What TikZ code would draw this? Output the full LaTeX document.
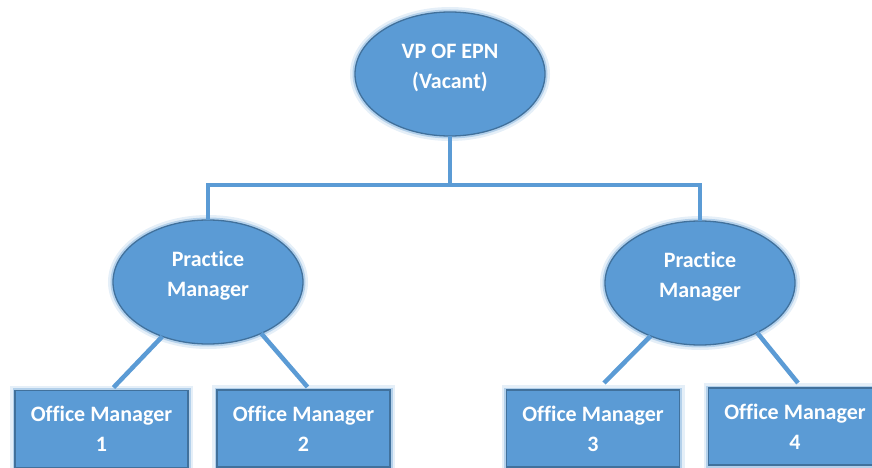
\documentclass[tikz,border=0pt]{standalone}
\usepackage{fontspec}
\setmainfont{Carlito}[Ligatures={NoCommon}]
\usetikzlibrary{shapes.geometric,positioning,calc}
\definecolor{boxblue}{HTML}{5B9BD5}
\definecolor{edgeblue}{HTML}{41719C}
\definecolor{glowblue}{HTML}{BDD7EE}
% extra depth so that the text sits a bit above the ellipse centre
\newcommand{\lift}{\rule[-16pt]{0pt}{0pt}}

\begin{document}
\begin{tikzpicture}[
    x=1pt, y=-1pt,
    glow/.style={preaction={draw=glowblue, line width=10pt, opacity=0.4},
                 preaction={draw=glowblue!70!boxblue, line width=5pt, opacity=0.7}},
    role/.style={ellipse, glow, draw=edgeblue, line width=1.3pt, fill=boxblue, text=white,
                 font=\fontsize{22}{30}\selectfont\bfseries, align=center,
                 minimum width=190, minimum height=124, outer sep=0pt},
    office/.style={rectangle, glow, draw=edgeblue, line width=1.3pt, fill=boxblue, text=white,
                   font=\fontsize{22}{30}\selectfont\bfseries, align=center,
                   minimum width=173, minimum height=77, outer sep=0pt},
    line/.style={draw=boxblue, line width=4.5pt}
]
\useasboundingbox (0,0) rectangle (872,468);

\node [role] (vp) at (450,74) {VP OF EPN\\(Vacant)\lift};
\node [role] (pmL) at (208,282) {Practice\\Manager\lift};
\node [role] (pmR) at (700,283) {Practice\\Manager\lift};

\node [office] (om1) at (101.5,429) {Office Manager\\1};
\node [office] (om2) at (303.5,428.5) {Office Manager\\2};
\node [office] (om3) at (593,428.5) {Office Manager\\3};
\node [office] (om4) at (795,426.5) {Office Manager\\4};

\coordinate (bus) at (450,185);

\path [line] (vp.south) -- (bus);
\path [line] (pmL.north) |- (bus) -| (pmR.north);
\path [line] (pmL.230) -- ($(om1.north)+(12,-3)$);
\path [line] (pmL.-44) -- ($(om2.north)+(4,-3)$);
\path [line] (pmR.227) -- ($(om3.north)+(11,-7)$);
\path [line] (pmR.-41) -- ($(om4.north)+(3,-5)$);

\end{tikzpicture}
\end{document}
